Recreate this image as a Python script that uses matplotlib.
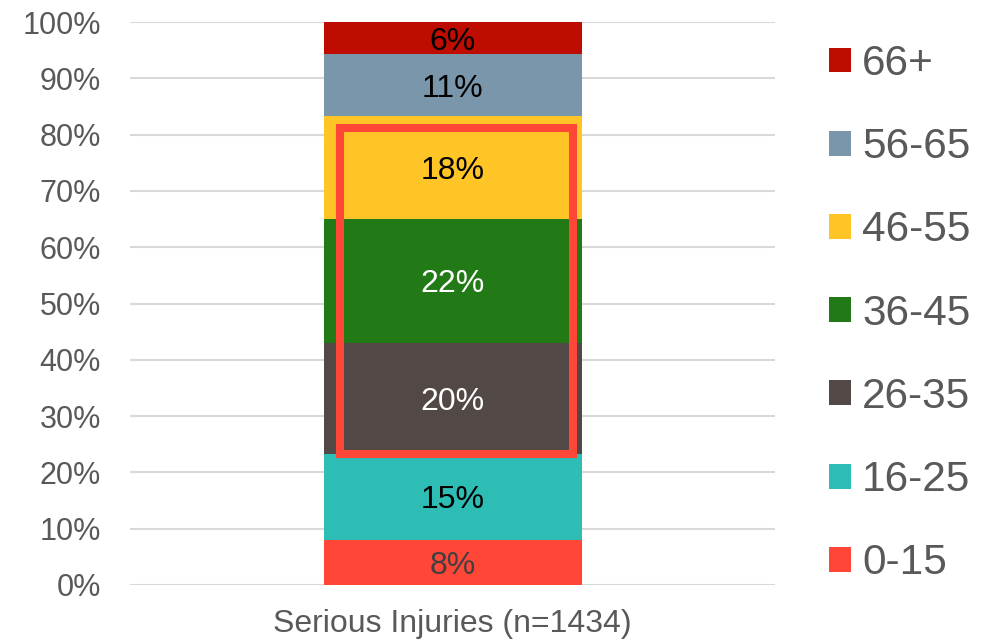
import matplotlib
matplotlib.use("Agg")
import matplotlib.pyplot as plt
from matplotlib.patches import Rectangle, Patch
import numpy as np

plt.rcParams['font.family'] = ['Liberation Sans', 'DejaVu Sans']

# Age groups, bottom to top of the stack
age_groups = ["0-15", "16-25", "26-35", "36-45", "46-55", "56-65", "66+"]
shares = [8.0, 15.3, 19.7, 22.0, 18.3, 11.0, 5.7]
share_labels = ["8%", "15%", "20%", "22%", "18%", "11%", "6%"]
category = "Serious Injuries (n=1434)"
colors = ["#FF4637", "#2EBDB5", "#524845", "#217A15", "#FFC425", "#7A96AB", "#BE0C00"]
label_colors = ["#404040", "black", "white", "white", "black", "black", "black"]
highlight = ["26-35", "36-45", "46-55"]
y_ticks = list(range(0, 101, 10))

GRAY = "#595959"

fig = plt.figure(figsize=(9.94, 6.42), dpi=100)
ax = fig.add_axes([130/994, 1 - 585/642, 645/994, 563/642])

bottoms = np.concatenate([[0], np.cumsum(shares)[:-1]])
for grp, val, bot, col, lab, lcol in zip(age_groups, shares, bottoms, colors, share_labels, label_colors):
    ax.bar(0, val, bottom=bot, width=0.4, color=col, label=grp, zorder=2)
    ax.text(0, bot + val/2, lab, ha='center', va='center_baseline', fontsize=23, color=lcol, zorder=4)

# red highlight box around the middle age groups
i0 = age_groups.index(highlight[0])
i1 = age_groups.index(highlight[-1])
box_bot = bottoms[i0]
box_top = bottoms[i1] + shares[i1] - 2.1
ax.add_patch(Rectangle((-0.174, box_bot), 0.361, box_top - box_bot, fill=False,
                       edgecolor="#FF4637", linewidth=5.8, zorder=3))

ax.set_xlim(-0.5, 0.5)
ax.set_ylim(0, 100)
ax.set_yticks(y_ticks)
ax.set_yticklabels([f"{t}%" for t in y_ticks])
ax.set_xticks([0])
ax.set_xticklabels([category])
ax.tick_params(axis='y', length=0, pad=21, labelsize=22, labelcolor=GRAY)
ax.tick_params(axis='x', length=0, pad=17, labelsize=23, labelcolor=GRAY)
ax.grid(axis='y', color="#D9D9D9", linewidth=1.5, zorder=0)
ax.set_axisbelow(True)
for s in ax.spines.values():
    s.set_visible(False)

handles = [Patch(facecolor=c) for c in colors][::-1]
leg = fig.legend(handles, age_groups[::-1], loc='upper left',
                 bbox_to_anchor=(829/994, 1 - 44/642), frameon=False,
                 fontsize=30.5, labelcolor=GRAY, handlelength=0.53, handleheight=0.53,
                 handletextpad=0.25, labelspacing=1.02, borderpad=0, borderaxespad=0)

fig.savefig("out.png", dpi=100)
